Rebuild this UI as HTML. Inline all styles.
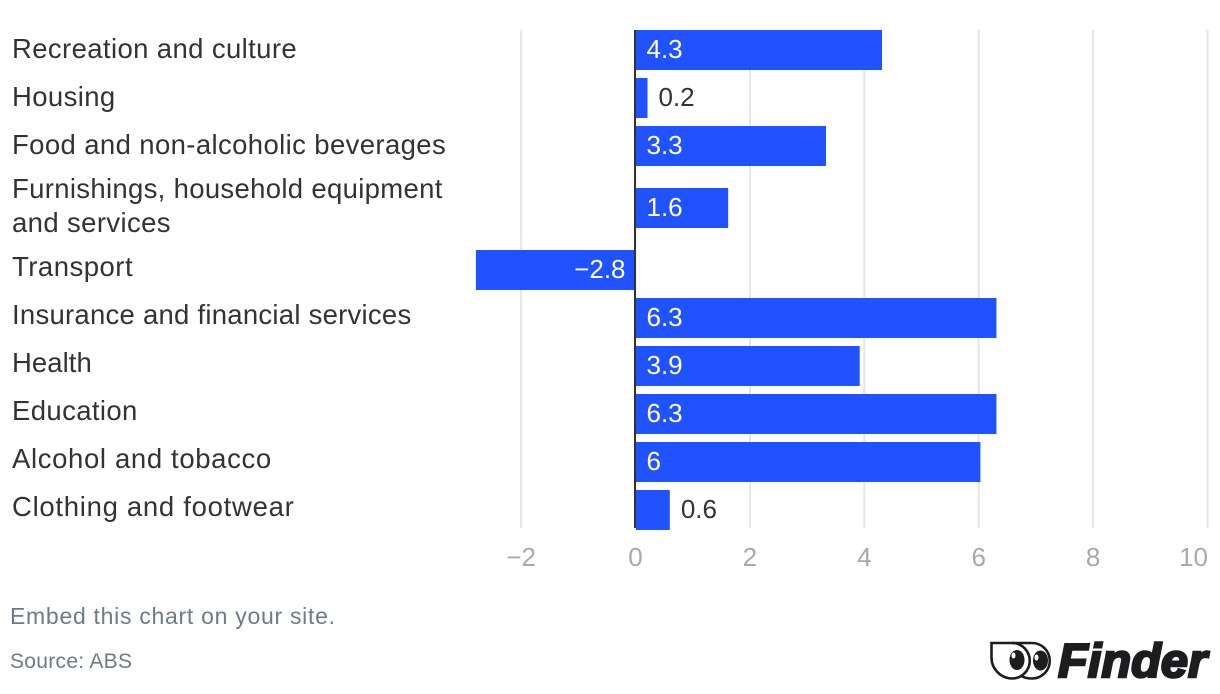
<!DOCTYPE html>
<html lang="en">
<head>
<meta charset="utf-8">
<title>Chart</title>
<style>
html,body{margin:0;padding:0;background:#fff;width:1220px;height:694px;overflow:hidden}
svg{display:block;font-family:"Liberation Sans",sans-serif}
</style>
</head>
<body>
<svg id="chart" xmlns="http://www.w3.org/2000/svg" width="1220" height="694" viewBox="0 0 1220 694">
  <g id="grid"></g>
  <g id="bars"></g>
  <line x1="635" x2="635" y1="30" y2="528" stroke="#333" stroke-width="2"></line>
  <g id="cats"></g>
  <g id="vals"></g>
  <g id="ticks"></g>
  <text x="10" y="624" font-size="23" fill="#6e7b87" textLength="325" lengthAdjust="spacing">Embed this chart on your site.</text>
  <text x="10" y="668" font-size="21" fill="#6e7b87" textLength="122" lengthAdjust="spacing">Source: ABS</text>
  <g>
    <path d="M991.500 643H1012A17.700 17.700 0 0 1 1012 678.500A21 21 0 0 1 991.500 657Z" fill="none" stroke="#1d1d1f" stroke-width="2.600"></path>
    <path d="M1012 643H1032A17.700 17.700 0 0 1 1032 678.500Q1026 678.500 1021 676" fill="none" stroke="#1d1d1f" stroke-width="2.600"></path>
    <ellipse cx="1017" cy="660" rx="7.500" ry="10" fill="#1d1d1f"></ellipse>
    <ellipse cx="1040.500" cy="660.500" rx="7.500" ry="10" fill="#1d1d1f"></ellipse>
    <ellipse cx="1013.500" cy="655.500" rx="2" ry="3" fill="#fff"></ellipse>
    <ellipse cx="1036.500" cy="657.500" rx="2" ry="3" fill="#fff"></ellipse>
    <text x="1058" y="677" font-size="47" font-weight="700" font-style="italic" fill="#1d1d1f" stroke="#1d1d1f" stroke-width="2.400" textLength="149" lengthAdjust="spacingAndGlyphs">Finder</text>
  </g>
</svg>
<script>
const categories = [
  ["Recreation and culture"],
  ["Housing"],
  ["Food and non-alcoholic beverages"],
  ["Furnishings, household equipment", "and services"],
  ["Transport"],
  ["Insurance and financial services"],
  ["Health"],
  ["Education"],
  ["Alcohol and tobacco"],
  ["Clothing and footwear"]
];
const values = [4.31, 0.21, 3.33, 1.62, -2.79, 6.31, 3.92, 6.31, 6.03, 0.6];
const printedValues = ["4.3", "0.2", "3.3", "1.6", "\u22122.8", "6.3", "3.9", "6.3", "6", "0.6"];
const tickValues = [-2, 0, 2, 4, 6, 8, 10];
const tickLabels = ["\u22122", "0", "2", "4", "6", "8", "10"];

const SVGNS = "http://www.w3.org/2000/svg";
const xScale = v => 635.5 + v * 57.2;
const BAR_H = 40, ROW_H = 48, EXTRA_BAR_H = 28, EXTRA_LABEL_H = 26, LINE_H = 34;
const DEFAULT_TRACKING = 0.38;
function trackingFor(text) {
  if (text.startsWith("Clothing")) return 0.71;
  if (text.startsWith("Alcohol")) return 0.64;
  if (text.startsWith("Insurance")) return 0.255;
  if (text.startsWith("Furnishings")) return 0.32;
  if (text.startsWith("Health")) return 0.05;
  if (text.startsWith("Transport")) return 0.49;
  return DEFAULT_TRACKING;
}

function mk(tag, attrs, parent, txt) {
  const el = document.createElementNS(SVGNS, tag);
  for (const k in attrs) el.setAttribute(k, attrs[k]);
  if (txt !== undefined) el.textContent = txt;
  parent.appendChild(el);
  return el;
}

const gGrid = document.getElementById("grid");
const gTicks = document.getElementById("ticks");
tickValues.forEach((t, i) => {
  const x = xScale(t);
  const line = mk("line", {x1: x, x2: x, y1: 30, y2: 528, stroke: "#e6e6e6", "stroke-width": 2}, gGrid);
  
  
  const last = i === tickValues.length - 1;
  const label = mk("text", {x: last ? 1208 : x, y: 566, "font-size": 26, fill: "#a9a9a9", "text-anchor": last ? "end" : "middle"}, gTicks, tickLabels[i]);
  
  
});

const gBars = document.getElementById("bars");
const gCats = document.getElementById("cats");
const gVals = document.getElementById("vals");
let rowTop = 30;
let labelBase = 58;
values.forEach((v, i) => {
  const lines = categories[i];
  const extraLines = lines.length - 1;
  const extra = extraLines * EXTRA_BAR_H;
  const barTop = rowTop + extra / 2;
  const center = barTop + BAR_H / 2;
  const x0 = xScale(0), x1 = xScale(v);
  const rect = mk("rect", {x: v < 0 ? x1 : x0 + 0.5, y: barTop, width: Math.abs(x1 - x0) - (v < 0 ? 0 : 0.5), height: BAR_H, fill: "#2053ff"}, gBars);
  
  

  const lineStart = labelBase - extraLines * 4;
  lines.forEach((ln, j) => {
    const t = mk("text", {x: 12, y: lineStart + j * LINE_H, "font-size": 27.5, fill: "#333", "letter-spacing": trackingFor(ln)}, gCats, ln);
    
    
  });

  const inside = Math.abs(x1 - x0) > 60;
  let attrs;
  if (v < 0) attrs = {x: x0 - 10, "text-anchor": "end", fill: "#fff"};
  else if (inside) attrs = {x: x0 + 11, fill: "#fff"};
  else attrs = {x: x1 + 11, fill: "#333"};
  attrs.y = center + 8;
  attrs["font-size"] = 26;
  const val = mk("text", attrs, gVals, printedValues[i]);
  
  

  rowTop += ROW_H + extra;
  labelBase += ROW_H + extraLines * EXTRA_LABEL_H;
});
</script>
</body>
</html>
